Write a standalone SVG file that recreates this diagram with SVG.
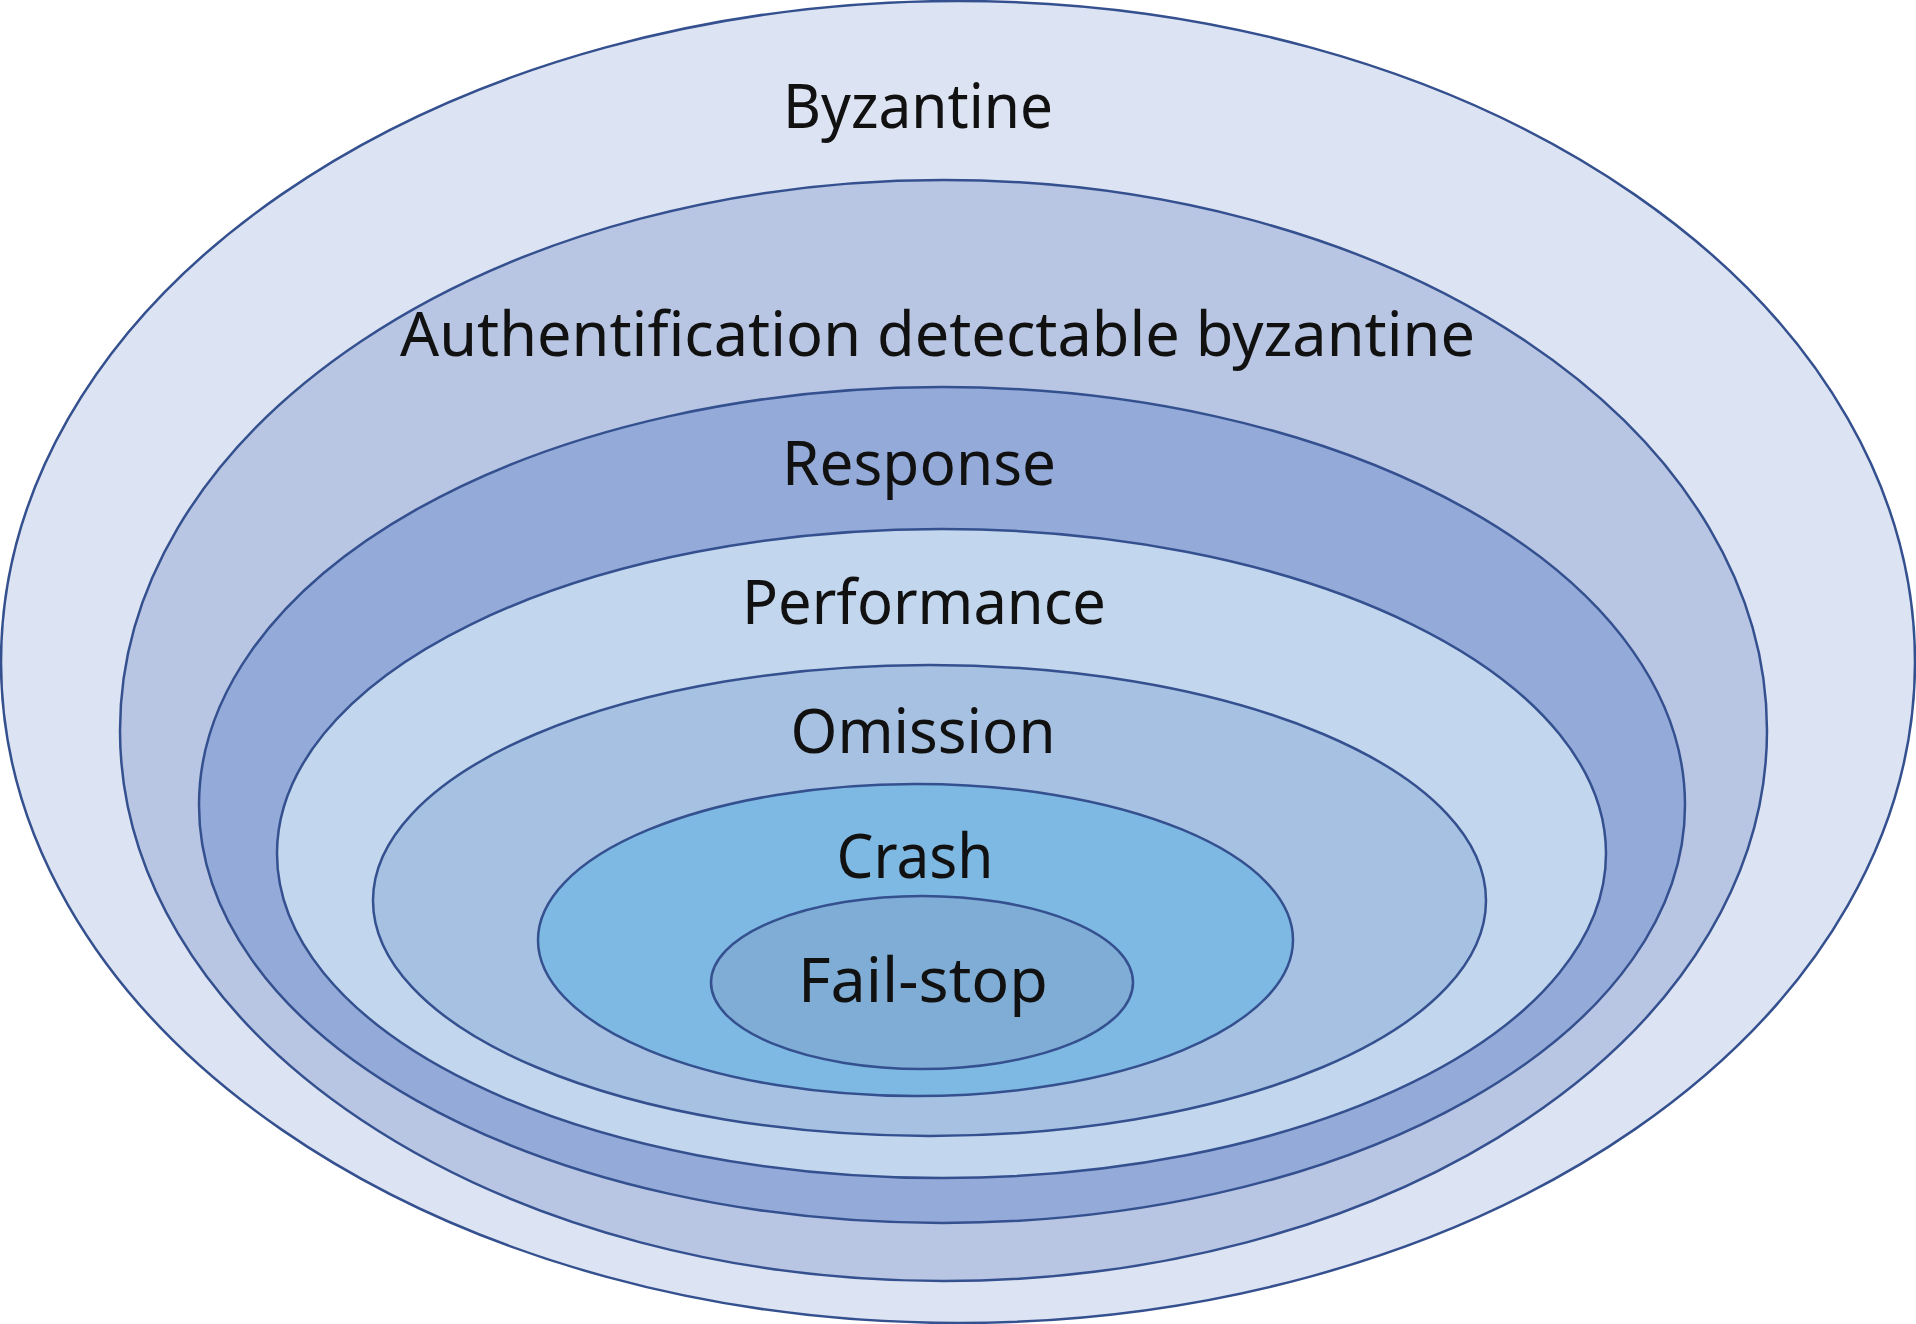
<svg xmlns="http://www.w3.org/2000/svg" width="1916" height="1324" viewBox="0 0 1916 1324">
<style>
.e{stroke:#34508f;stroke-width:2.5}
.t{font-family:"Noto Sans","Open Sans","DejaVu Sans",sans-serif;font-size:62px;fill:#111;text-anchor:middle}
</style>
<rect width="1916" height="1324" fill="#ffffff"/>
<g id="byzantine">
<ellipse class="e" cx="958" cy="662" rx="957" ry="661" fill="#dce3f2"/>
<text class="t" x="918" y="128" textLength="270" lengthAdjust="spacingAndGlyphs">Byzantine</text>
</g>
<g id="auth">
<ellipse class="e" cx="943.5" cy="730.5" rx="823.5" ry="550.5" fill="#b8c6e3"/>
<text class="t" x="937.5" y="356" textLength="1075" lengthAdjust="spacingAndGlyphs">Authentification detectable byzantine</text>
</g>
<g id="response">
<ellipse class="e" cx="942" cy="805" rx="743" ry="418" fill="#94aad9"/>
<text class="t" x="919" y="485" textLength="274" lengthAdjust="spacingAndGlyphs">Response</text>
</g>
<g id="performance">
<ellipse class="e" cx="941.5" cy="853.5" rx="664.5" ry="324.5" fill="#c2d6ed"/>
<text class="t" x="924" y="624" textLength="364" lengthAdjust="spacingAndGlyphs">Performance</text>
</g>
<g id="omission">
<ellipse class="e" cx="929.5" cy="900.5" rx="556.5" ry="235.5" fill="#a6c1e2"/>
<text class="t" x="923" y="753" textLength="265" lengthAdjust="spacingAndGlyphs">Omission</text>
</g>
<g id="crash">
<ellipse class="e" cx="915.5" cy="940" rx="377.5" ry="156" fill="#7eb9e3"/>
<text class="t" x="915" y="878" textLength="157" lengthAdjust="spacingAndGlyphs">Crash</text>
</g>
<g id="failstop">
<ellipse class="e" cx="922" cy="982.5" rx="211" ry="86.5" fill="#7fadd5"/>
<text class="t" x="923" y="1002" textLength="250" lengthAdjust="spacingAndGlyphs">Fail-stop</text>
</g>
<g id="connectors"></g>
</svg>
